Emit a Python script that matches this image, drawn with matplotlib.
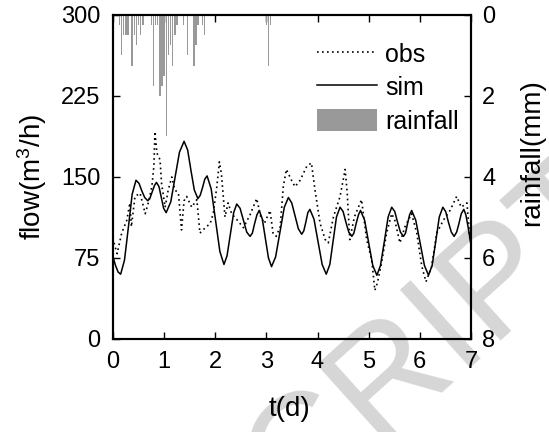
import matplotlib
matplotlib.use('Agg')
import matplotlib.pyplot as plt
from matplotlib.lines import Line2D
from matplotlib.patches import Patch

plt.rcParams['font.family'] = ['Liberation Sans', 'DejaVu Sans']
plt.rcParams['mathtext.fontset'] = 'custom'
plt.rcParams['mathtext.rm'] = 'Liberation Sans'

# lluvia horaria (mm), hora desde el inicio
rain_hour = [3, 4, 5, 6, 7, 9, 10, 11, 12, 13, 14,
             18, 19, 20, 21, 22, 23, 24, 25, 26, 27, 28, 29, 30,
             33, 35, 38, 39, 40, 42, 43,
             72, 73, 74]
rain_mm = [0.25, 1.0, 0.5, 0.5, 0.5, 1.25, 0.5, 0.75, 0.25, 0.5, 0.25,
           0.25, 1.75, 0.25, 0.25, 2.0, 1.75, 1.5, 3.0, 1.0, 0.75, 1.25, 0.5, 0.25,
           0.25, 1.0, 1.25, 0.75, 0.25, 0.25, 0.5,
           0.25, 1.25, 0.25]

# caudal observado
obs_t = [0.02, 0.08, 0.17, 0.27, 0.33, 0.36, 0.43, 0.53, 0.63, 0.69, 0.76, 0.80, 0.82,
         0.86, 0.92, 0.95, 1.02, 1.08, 1.15, 1.21, 1.28, 1.34, 1.39, 1.44, 1.54, 1.64,
         1.70, 1.76, 1.90, 1.96, 2.03, 2.08, 2.12, 2.19, 2.25, 2.32, 2.45, 2.55, 2.68,
         2.81, 2.89, 2.96, 3.07, 3.13, 3.19, 3.27, 3.33, 3.39, 3.49, 3.56, 3.66, 3.79,
         3.88, 3.95, 4.05, 4.15, 4.21, 4.31, 4.44, 4.54, 4.58, 4.63, 4.72, 4.86, 4.96,
         5.06, 5.12, 5.17, 5.25, 5.35, 5.45, 5.51, 5.61, 5.71, 5.84, 5.94, 6.04, 6.12,
         6.23, 6.33, 6.46, 6.59, 6.72, 6.81, 6.92, 6.98]
obs_q = [89, 79, 98, 110, 126, 104, 132, 135, 116, 126, 141, 160, 192,
         172, 166, 144, 122, 138, 150, 138, 135, 101, 128, 132, 122, 129,
         98, 101, 107, 116, 141, 164, 153, 113, 126, 116, 109, 103, 115,
         130, 113, 107, 119, 98, 95, 104, 141, 157, 147, 141, 147, 160,
         163, 138, 107, 92, 89, 113, 132, 157, 135, 92, 113, 129, 92,
         73, 45, 52, 70, 98, 116, 110, 89, 104, 116, 98, 67, 53,
         67, 98, 110, 119, 132, 122, 126, 92]

# caudal simulado
sim_t = [0.00, 0.05, 0.10, 0.15, 0.225, 0.30, 0.375, 0.45, 0.51, 0.565, 0.62, 0.68,
         0.72, 0.765, 0.81, 0.85, 0.90, 0.945, 0.99, 1.04, 1.13, 1.215, 1.30, 1.39,
         1.46, 1.525, 1.59, 1.66, 1.705, 1.75, 1.795, 1.84, 1.92, 2.005, 2.09, 2.17,
         2.23, 2.295, 2.36, 2.42, 2.485, 2.55, 2.615, 2.68, 2.725, 2.77, 2.815, 2.86,
         2.92, 2.98, 3.04, 3.10, 3.18, 3.265, 3.35, 3.43, 3.495, 3.56, 3.625, 3.69,
         3.73, 3.77, 3.81, 3.85, 3.93, 4.01, 4.09, 4.17, 4.24, 4.305, 4.37, 4.44,
         4.50, 4.555, 4.61, 4.67, 4.71, 4.755, 4.80, 4.84, 4.92, 5.00, 5.08, 5.16,
         5.23, 5.305, 5.38, 5.45, 5.51, 5.565, 5.62, 5.68, 5.72, 5.76, 5.80, 5.84,
         5.92, 6.005, 6.09, 6.17, 6.24, 6.31, 6.38, 6.45, 6.505, 6.56, 6.615, 6.67,
         6.72, 6.765, 6.81, 6.86, 6.90, 6.95, 7.00]
sim_q = [76, 68, 62, 60, 73, 103, 134, 147, 144, 137, 131, 128,
         130, 136, 142, 145, 141, 131, 121, 117, 127, 150, 173, 183,
         175, 156, 138, 130, 133, 140, 148, 151, 139, 110, 81, 69,
         77, 97, 117, 125, 121, 110, 99, 95, 98, 107, 115, 119,
         111, 93, 75, 67, 76, 99, 122, 131, 126, 114, 102, 97,
         100, 108, 117, 120, 111, 90, 69, 60, 69, 91, 113, 122,
         118, 108, 99, 95, 98, 107, 115, 119, 110, 89, 68, 59,
         68, 90, 113, 122, 118, 108, 99, 95, 98, 107, 115, 119,
         110, 89, 68, 59, 68, 90, 113, 122, 118, 108, 99, 95,
         99, 107, 116, 120, 115, 102, 87]

rain_t = [h / 24 for h in rain_hour]

fig = plt.figure(figsize=(5.49, 4.32), dpi=100)

# marca de agua del manuscrito, detras de todo
fig.text(0.80, 0.22, 'CRIPT', rotation=42, fontsize=110, color='#d6d6d6',
         ha='center', va='center', zorder=-1)

ax = fig.add_axes([0.2058, 0.2153, 0.6521, 0.75])
ax.set_facecolor('none')
ax.plot(obs_t, obs_q, color='black', linestyle=(0, (1, 2)), linewidth=1.2)
ax.plot(sim_t, sim_q, color='black', linestyle='-', linewidth=1.1)
ax.set_xlim(0, 7)
ax.set_ylim(0, 300)
ax.set_xticks(range(0, 8))
ax.set_yticks([0, 75, 150, 225, 300])
ax.tick_params(direction='in', length=5, width=1, top=True, right=False,
               labelsize=17, pad=9)
ax.set_xlabel('t(d)', fontsize=20)
ax.xaxis.set_label_coords(0.494, -0.175)
ax.set_ylabel(r'flow(m$\mathregular{^3}$/h)', fontsize=20)
ax.yaxis.set_label_coords(-0.18, 0.5)

ax2 = ax.twinx()
ax2.set_facecolor('none')
ax2.bar(rain_t, rain_mm, width=0.7 / 24, color='#999999', linewidth=0)
ax2.set_ylim(8, 0)
ax2.set_yticks([0, 2, 4, 6, 8])
ax2.tick_params(direction='in', length=5, width=1, labelsize=17, pad=8)
ax2.set_ylabel('rainfall(mm)', fontsize=20)
ax2.yaxis.set_label_coords(1.134, 0.574)

for a in (ax, ax2):
    for s in a.spines.values():
        s.set_linewidth(1.5)

handles = [Line2D([], [], color='black', linestyle=(0, (1, 2)), linewidth=1.2),
           Line2D([], [], color='black', linewidth=1.1),
           Patch(facecolor='#999999', edgecolor='none')]
ax2.legend(handles, ['obs', 'sim', 'rainfall'], loc='upper right',
           bbox_to_anchor=(1.0, 0.955), frameon=False, fontsize=18,
           handlelength=2.4, handleheight=1.0, handletextpad=0.3,
           labelspacing=0.35, borderaxespad=0.1)

fig.savefig('out.png', dpi=100)
